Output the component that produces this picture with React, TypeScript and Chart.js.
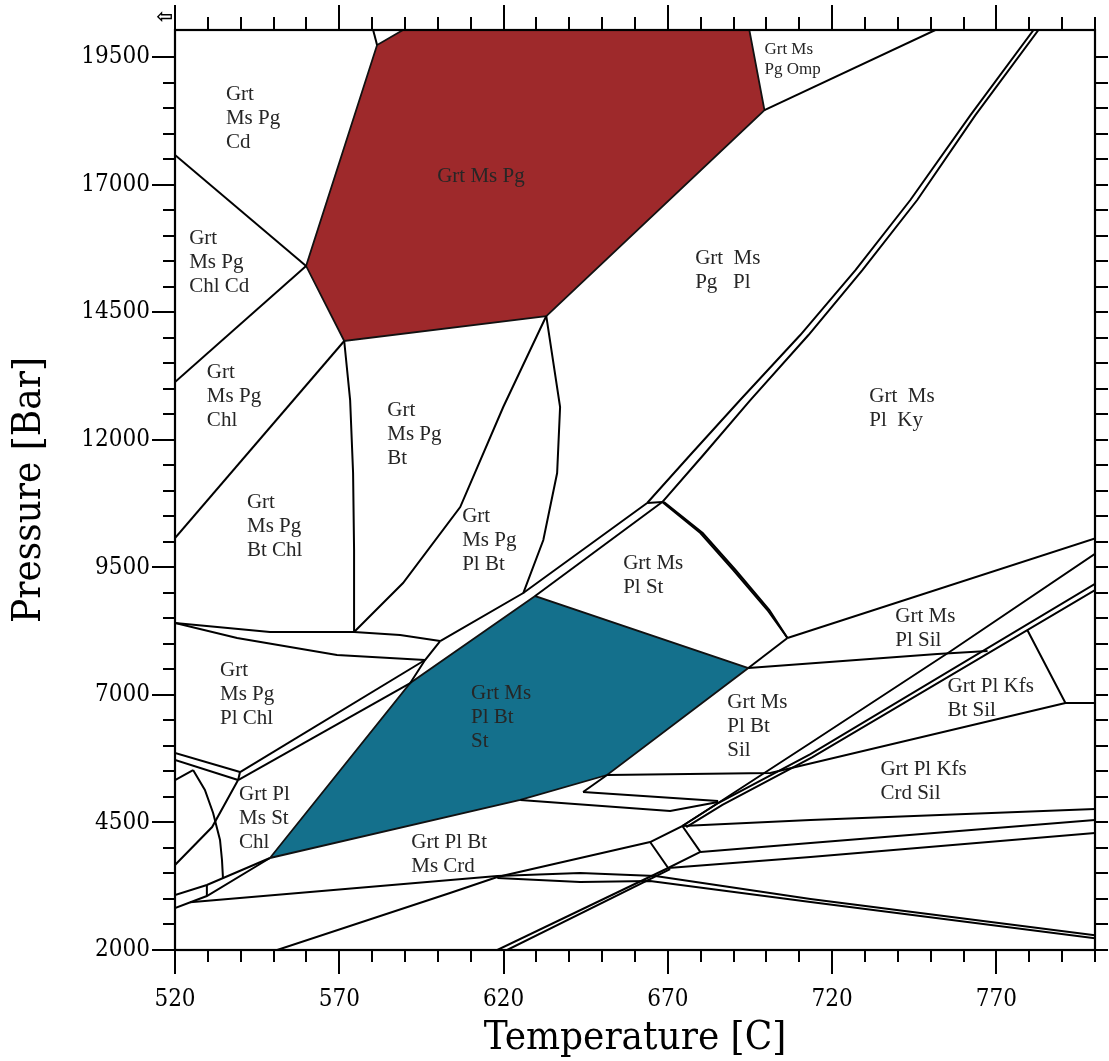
import React, { useEffect, useRef } from "react";
import { Chart, registerables } from "chart.js";

Chart.register(...registerables);

type Pt = [number, number];

// ---- axes ----
const xMin = 520;
const xMax = 800;
const yMin = 2000;
const yMax = 20030;
const xTickValues = [520, 570, 620, 670, 720, 770];
const yTickValues = [2000, 4500, 7000, 9500, 12000, 14500, 17000, 19500];
const xMinorStep = 10;
const yMinorStep = 500;
const yMinorTop = 19500;

// ---- filled fields (Temperature C, Pressure Bar) ----
const fieldGrtMsPg: Pt[] = [[589.4, 20030], [694.8, 20030], [699.4, 18461], [633.0, 14424], [571.5, 13935], [559.9, 15404], [581.5, 19735]];
const fieldGrtMsPlBtSt: Pt[] = [[548.9, 3803], [591.6, 7232], [629.6, 8937], [694.5, 7526], [651.5, 5429], [625.1, 4940]];

// ---- field boundaries ----
const bTopNotch: Pt[] = [[580.3, 20030], [581.5, 19735]];
const bCdChlCd: Pt[] = [[520, 17580], [559.9, 15404]];
const bChlCdChl: Pt[] = [[520, 13131], [559.9, 15404]];
const bOmp: Pt[] = [[699.4, 18461], [751.4, 20030]];
const bKyA: Pt[] = [[781.3, 20030], [762.1, 18363], [743.8, 16698], [727.1, 15326], [710.3, 14052], [692.0, 12778], [676.8, 11701], [663.7, 10760]];
const bKyB: Pt[] = [[782.8, 20030], [763.6, 18363], [745.9, 16698], [729.2, 15326], [712.8, 14052], [695.1, 12778], [680.8, 11701], [668.3, 10779]];
const bKyJoin: Pt[] = [[663.7, 10760], [668.3, 10779]];
const bStA: Pt[] = [[668.3, 10779], [679.9, 10172], [689.9, 9447], [700.3, 8663], [706.4, 8114]];
const bStB: Pt[] = [[668.8, 10779], [680.6, 10172], [690.6, 9447], [700.9, 8663], [706.4, 8114]];
const bStSil: Pt[] = [[706.4, 8114], [694.5, 7526]];
const bSilKy: Pt[] = [[706.4, 8114], [800, 10065]];
const bMsSil: Pt[] = [[694.5, 7526], [752.0, 7801], [767.3, 7860]];

const bChlUpper: Pt[] = [[539.8, 5488], [596.1, 7683]];
const bChlLower: Pt[] = [[539.2, 5331], [591.6, 7232]];
const bStSteep: Pt[] = [[591.6, 7232], [596.1, 7683], [600.7, 8055]];
const bSliver: Pt[] = [[600.7, 8055], [626.0, 8996], [663.7, 10760]];
const bStTopExt: Pt[] = [[629.6, 8937], [668.3, 10779]];

const bChlCurveUp: Pt[] = [[520, 8408], [548.9, 8232], [574.5, 8232], [588.5, 8173], [600.7, 8055]];
const bChlCurveLow: Pt[] = [[520, 8408], [538.9, 8114], [569.3, 7781], [596.1, 7683]];
const bBtIn: Pt[] = [[571.5, 13935], [573.3, 12778], [574.2, 11348], [574.5, 9839], [574.5, 8232]];
const bPlIn: Pt[] = [[633.0, 14424], [619.9, 12641], [606.8, 10681], [589.4, 9192], [574.5, 8232]];
const bPlBtRight: Pt[] = [[633.0, 14424], [637.2, 12641], [636.3, 11348], [632.1, 10035], [626.0, 8996]];
const bChlOut: Pt[] = [[571.5, 13935], [520, 10074]];

const bLL1: Pt[] = [[520, 5861], [539.8, 5488]];
const bLL2: Pt[] = [[520, 5723], [539.2, 5331]];
const bLL3: Pt[] = [[539.8, 5488], [539.2, 5331]];
const bLL4: Pt[] = [[539.2, 5331], [531.3, 4410], [520, 3666]];
const bArcTop: Pt[] = [[520, 5331], [525.5, 5527]];
const bArc: Pt[] = [[525.5, 5527], [529.1, 5136], [531.6, 4685], [533.7, 4156], [534.3, 3764], [534.6, 3409]];
const bLow1: Pt[] = [[520, 3078], [529.7, 3274], [548.9, 3803]];
const bLow2: Pt[] = [[520, 2823], [529.7, 3058], [548.9, 3803]];
const bLowTick: Pt[] = [[529.7, 3274], [529.7, 3058]];
const bCrdTop: Pt[] = [[524.6, 2934], [618.1, 3450], [643.3, 3509], [666.2, 3450], [713.4, 2999], [800, 2290]];
const bCrdBot: Pt[] = [[618.1, 3411], [643.3, 3333], [664.6, 3352], [713.4, 2941], [800, 2231]];

const bDiagLow: Pt[] = [[551.1, 2000], [603.7, 3117], [618.1, 3431], [664.6, 4116]];
const bDiagUp: Pt[] = [[674.4, 4430], [685.3, 4881], [713.4, 6057], [755.7, 7840], [800, 9763]];
const bDDa: Pt[] = [[618.1, 2000], [670.1, 3607]];
const bDDb: Pt[] = [[621.1, 2000], [670.7, 3587]];
const bBox: Pt[] = [[664.6, 4116], [674.4, 4430], [679.9, 3921], [670.1, 3607], [664.6, 4116]];
const bDDc: Pt[] = [[674.4, 4430], [685.3, 4881], [713.4, 5841], [800, 9176]];
const bDDd: Pt[] = [[675.6, 4410], [686.6, 4842], [714.0, 5782], [800, 9054]];
const bH1: Pt[] = [[674.4, 4430], [713.4, 4548], [800, 4763]];
const bH2: Pt[] = [[679.9, 3921], [713.4, 4097], [800, 4548]];
const bH3: Pt[] = [[670.1, 3607], [713.4, 3823], [800, 4293]];
const bM1: Pt[] = [[625.1, 4940], [670.7, 4724], [685.3, 4900]];
const bM2: Pt[] = [[644.2, 5096], [685.3, 4920]];
const bM3: Pt[] = [[644.2, 5096], [651.5, 5429]];
const bM4: Pt[] = [[651.5, 5429], [701.2, 5469], [791.0, 6840]];
const bKfs: Pt[] = [[779.4, 8270], [791.0, 6840], [800, 6840]];

const boundaries: Pt[][] = [
  bTopNotch, bCdChlCd, bChlCdChl, bOmp, bKyA, bKyB, bKyJoin, bStA, bStB, bStSil, bSilKy, bMsSil,
  bChlUpper, bChlLower, bStSteep, bSliver, bStTopExt, bChlCurveUp, bChlCurveLow, bBtIn, bPlIn,
  bPlBtRight, bChlOut, bLL1, bLL2, bLL3, bLL4, bArcTop, bArc, bLow1, bLow2, bLowTick, bCrdTop,
  bCrdBot, bDiagLow, bDiagUp, bDDa, bDDb, bBox, bDDc, bDDd, bH1, bH2, bH3, bM1, bM2, bM3, bM4, bKfs,
];

// ---- field labels ----
const labelT = [535.5, 599.8, 699.4, 524.3, 678.3, 529.7, 584.6, 731.3, 541.9, 607.4, 656.4, 739.2, 533.7, 610.1, 755.1, 688.1, 734.7, 539.5, 591.9];
const labelP = [18775, 17168, 19657, 15953, 15561, 13327, 12582, 12857, 10779, 10505, 9584, 8545, 7487, 7036, 7174, 6860, 5547, 5057, 4116];
const labelText: string[][] = [
  ["Grt", "Ms Pg", "Cd"],
  ["Grt Ms Pg"],
  ["Grt Ms", "Pg Omp"],
  ["Grt", "Ms Pg", "Chl Cd"],
  ["Grt  Ms", "Pg   Pl"],
  ["Grt", "Ms Pg", "Chl"],
  ["Grt", "Ms Pg", "Bt"],
  ["Grt  Ms", "Pl  Ky"],
  ["Grt", "Ms Pg", "Bt Chl"],
  ["Grt", "Ms Pg", "Pl Bt"],
  ["Grt Ms", "Pl St"],
  ["Grt Ms", "Pl Sil"],
  ["Grt", "Ms Pg", "Pl Chl"],
  ["Grt Ms", "Pl Bt", "St"],
  ["Grt Pl Kfs", "Bt Sil"],
  ["Grt Ms", "Pl Bt", "Sil"],
  ["Grt Pl Kfs", "Crd Sil"],
  ["Grt Pl", "Ms St", "Chl"],
  ["Grt Pl Bt", "Ms Crd"],
];
const labelSmall = [false, false, true, false, false, false, false, false, false, false, false, false, false, false, false, false, false, false, false];

const RED = "#9e292b";
const BLUE = "#14708c";
const AXIS_FONT = "'DejaVu Serif Condensed', 'DejaVu Serif', serif";

const fieldPlugin = {
  id: "fields",
  beforeDatasetsDraw(chart: any) {
    const { ctx } = chart;
    const xs = chart.scales.x;
    const ys = chart.scales.y;
    const fills: [Pt[], string][] = [[fieldGrtMsPg, RED], [fieldGrtMsPlBtSt, BLUE]];
    ctx.save();
    for (const [poly, color] of fills) {
      ctx.beginPath();
      poly.forEach(([t, p], i) => {
        const px = xs.getPixelForValue(t);
        const py = ys.getPixelForValue(p);
        if (i === 0) ctx.moveTo(px, py);
        else ctx.lineTo(px, py);
      });
      ctx.closePath();
      ctx.fillStyle = color;
      ctx.fill();
    }
    ctx.restore();
  },
  afterDatasetsDraw(chart: any) {
    const { ctx } = chart;
    const xs = chart.scales.x;
    const ys = chart.scales.y;
    ctx.save();
    ctx.textAlign = "left";
    ctx.textBaseline = "middle";
    ctx.fillStyle = "#262626";
    labelText.forEach((lines, i) => {
      const small = labelSmall[i];
      const size = small ? 17 : 21;
      const gap = small ? 20 : 24;
      ctx.font = `${size}px 'Liberation Serif', 'Times New Roman', serif`;
      const px = xs.getPixelForValue(labelT[i]);
      const py = ys.getPixelForValue(labelP[i]);
      lines.forEach((ln, j) => ctx.fillText(ln, px, py + j * gap));
    });
    ctx.restore();
  },
  afterDraw(chart: any) {
    const { ctx, chartArea } = chart;
    const { left, right, top, bottom } = chartArea;
    const xs = chart.scales.x;
    const ys = chart.scales.y;
    ctx.save();
    ctx.strokeStyle = "#000";
    ctx.lineWidth = 2;
    ctx.beginPath();
    for (let t = xMin; t <= xMax; t += xMinorStep) {
      const px = Math.round(xs.getPixelForValue(t));
      const major = (t - xMin) % 50 === 0;
      ctx.moveTo(px, bottom);
      ctx.lineTo(px, bottom + (major ? 24 : 12));
      ctx.moveTo(px, top);
      ctx.lineTo(px, top - (major ? 25 : 13));
    }
    for (let p = yMin; p <= yMinorTop; p += yMinorStep) {
      const py = Math.round(ys.getPixelForValue(p));
      const major = (p - yMin) % 2500 === 0;
      ctx.moveTo(left, py);
      ctx.lineTo(left - (major ? 23 : 12), py);
      ctx.moveTo(right, py);
      ctx.lineTo(right + 13, py);
    }
    ctx.stroke();
    ctx.lineWidth = 2.2;
    ctx.strokeRect(left, top, right - left, bottom - top);
    ctx.fillStyle = "#000";
    ctx.font = "bold 20px 'DejaVu Sans'";
    ctx.textAlign = "center";
    ctx.textBaseline = "middle";
    ctx.fillText("\u21E6", left - 10, top - 12);
    ctx.restore();
  },
};

export default function App() {
  const ref = useRef<HTMLCanvasElement | null>(null);
  useEffect(() => {
    if (!ref.current) return;
    const lineSets = boundaries.map((pts) => ({
      data: pts.map(([x, y]) => ({ x, y })),
      borderColor: "#000",
      borderWidth: 2,
      pointRadius: 0,
      fill: false,
      tension: 0,
    }));
    const outlineSets = [fieldGrtMsPg, fieldGrtMsPlBtSt].map((poly) => ({
      data: [...poly, poly[0]].map(([x, y]) => ({ x, y })),
      borderColor: "#111",
      borderWidth: 1.8,
      pointRadius: 0,
      fill: false,
      tension: 0,
    }));
    const chart = new Chart(ref.current, {
      type: "line",
      data: { datasets: [...lineSets, ...outlineSets] as any },
      options: {
        animation: false,
        responsive: true,
        maintainAspectRatio: false,
        events: [],
        layout: { padding: { top: 30, right: 14, left: 0, bottom: 0 } },
        plugins: { legend: { display: false }, tooltip: { enabled: false } },
        scales: {
          x: {
            type: "linear",
            min: xMin,
            max: xMax,
            grid: { display: false, drawTicks: false },
            border: { display: false },
            afterBuildTicks: (s: any) => {
              s.ticks = xTickValues.map((v) => ({ value: v }));
            },
            afterFit: (s: any) => {
              s.height = 111;
              s.paddingLeft = 0;
              s.paddingRight = 0;
            },
            ticks: {
              autoSkip: false,
              maxRotation: 0,
              padding: 35,
              color: "#000",
              font: { family: AXIS_FONT, size: 24 },
              callback: (v: any) => String(v),
            },
            title: {
              display: true,
              text: "Temperature [C]",
              color: "#000",
              font: { family: AXIS_FONT, size: 40, lineHeight: 1 },
              padding: { top: 0, bottom: 2 },
            },
          },
          y: {
            type: "linear",
            min: yMin,
            max: yMax,
            grid: { display: false, drawTicks: false },
            border: { display: false },
            afterBuildTicks: (s: any) => {
              s.ticks = yTickValues.map((v) => ({ value: v }));
            },
            afterFit: (s: any) => {
              s.width = 175;
              s.paddingTop = 0;
              s.paddingBottom = 0;
            },
            ticks: {
              autoSkip: false,
              padding: 25,
              color: "#000",
              font: { family: AXIS_FONT, size: 24 },
              callback: (v: any) => String(v),
            },
            title: {
              display: true,
              text: "Pressure [Bar]",
              color: "#000",
              font: { family: AXIS_FONT, size: 40, lineHeight: 1 },
              padding: { top: 10, bottom: 0 },
            },
          },
        },
      },
      plugins: [fieldPlugin],
    });
    return () => chart.destroy();
  }, []);
  return (
    <div style={{ position: "fixed", left: 0, top: 0, width: 1109, height: 1061, background: "#fff" }}>
      <canvas ref={ref} />
    </div>
  );
}
